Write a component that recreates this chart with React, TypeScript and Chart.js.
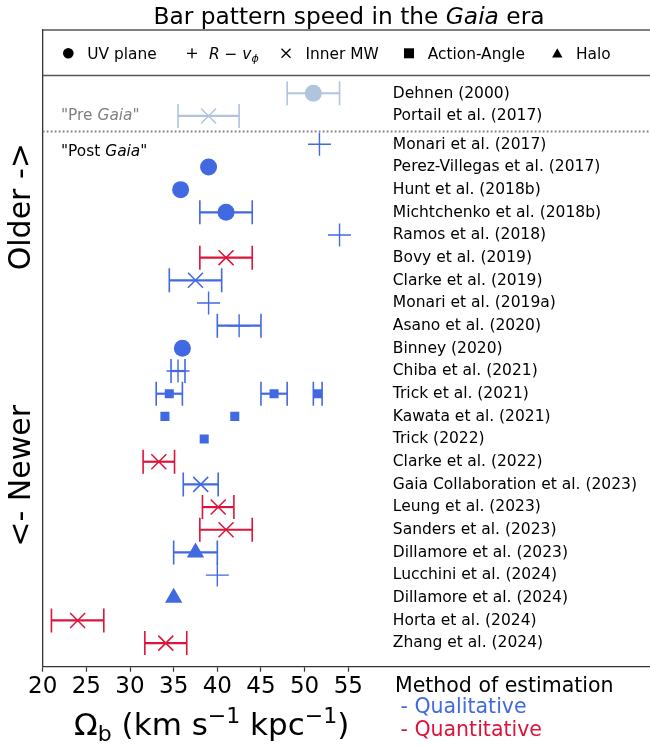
import React, { useEffect, useRef } from "react";
import { Chart, registerables } from "chart.js";

Chart.register(...registerables);

// ---------- data ----------
const studies = [
  "Dehnen (2000)",
  "Portail et al. (2017)",
  "Monari et al. (2017)",
  "Perez-Villegas et al. (2017)",
  "Hunt et al. (2018b)",
  "Michtchenko et al. (2018b)",
  "Ramos et al. (2018)",
  "Bovy et al. (2019)",
  "Clarke et al. (2019)",
  "Monari et al. (2019a)",
  "Asano et al. (2020)",
  "Binney (2020)",
  "Chiba et al. (2021)",
  "Trick et al. (2021)",
  "Kawata et al. (2021)",
  "Trick (2022)",
  "Clarke et al. (2022)",
  "Gaia Collaboration et al. (2023)",
  "Leung et al. (2023)",
  "Sanders et al. (2023)",
  "Dillamore et al. (2023)",
  "Lucchini et al. (2024)",
  "Dillamore et al. (2024)",
  "Horta et al. (2024)",
  "Zhang et al. (2024)",
];
const preGaiaCount = 2;

// one entry per estimate
const estimateStudy = [0, 1, 2, 3, 4, 5, 6, 7, 8, 9, 10, 11, 12, 13, 13, 13, 14, 14, 15, 16, 17, 18, 19, 20, 21, 22, 23, 24];
const estimateValue = [51, 39, 51.7, 39, 35.8, 41, 54, 41, 37.5, 39, 42.5, 36, 35.5, 34.5, 46.5, 51.5, 34, 42, 38.5, 33.3, 38.1, 40.1, 41, 37.5, 40, 35, 24, 34.1];
const estimateError: (number | null)[] = [3, 3.5, null, null, null, 3, null, 3, 3, null, 2.5, null, 0.8, 1.5, 1.5, 0.5, null, null, null, 1.8, 2, 1.8, 3, 2.5, null, null, 3, 2.4];
const estimateMethod = ["UV", "Inner", "Rv", "UV", "UV", "UV", "Rv", "Inner", "Inner", "Rv", "Rv", "UV", "Rv", "AA", "AA", "AA", "AA", "AA", "AA", "Inner", "Inner", "Inner", "Inner", "Halo", "Rv", "Halo", "Inner", "Inner"];
const estimateKind = ["qual", "qual", "qual", "qual", "qual", "qual", "qual", "quant", "qual", "qual", "qual", "qual", "qual", "qual", "qual", "qual", "qual", "qual", "qual", "quant", "qual", "quant", "quant", "qual", "qual", "qual", "quant", "quant"];

const methodKeys = ["UV", "Rv", "Inner", "AA", "Halo"];
const xTicks = [20, 25, 30, 35, 40, 45, 50, 55];

// ---------- styles ----------
const FONT = "'DejaVu Sans', sans-serif";
const COL_PRE = "#B0C4DE";
const COL_QUAL = "#4169E1";
const COL_QUANT = "#DC143C";
const methodStyle: Record<string, { pointStyle: string; radius: number; border: number }> = {
  UV: { pointStyle: "circle", radius: 8.5, border: 0 },
  Rv: { pointStyle: "cross", radius: 11.5, border: 1.4 },
  Inner: { pointStyle: "crossRot", radius: 10.6, border: 1.5 },
  AA: { pointStyle: "rect", radius: 6.4, border: 0 },
  Halo: { pointStyle: "triangle", radius: 10, border: 0 },
};

const rowY = (i: number) => (i < preGaiaCount ? i : i + 0.25);
const colorOf = (k: number) =>
  estimateStudy[k] < preGaiaCount ? COL_PRE : estimateKind[k] === "quant" ? COL_QUANT : COL_QUAL;

type Seg = { t: string; size: number; italic?: boolean; dy?: number; color?: string };
function drawRich(ctx: CanvasRenderingContext2D, segs: Seg[], x: number, y: number, align: "left" | "center") {
  let total = 0;
  for (const s of segs) {
    ctx.font = `${s.italic ? "italic " : ""}${s.size}px ${FONT}`;
    total += ctx.measureText(s.t).width;
  }
  let cx = align === "center" ? x - total / 2 : x;
  ctx.textAlign = "left";
  ctx.textBaseline = "alphabetic";
  for (const s of segs) {
    ctx.font = `${s.italic ? "italic " : ""}${s.size}px ${FONT}`;
    ctx.fillStyle = s.color || "#000";
    ctx.fillText(s.t, cx, y + (s.dy || 0));
    cx += ctx.measureText(s.t).width;
  }
}

const errorBarPlugin = {
  id: "errorBars",
  beforeDatasetsDraw(chart: any) {
    const ctx = chart.ctx as CanvasRenderingContext2D;
    const xs = chart.scales.x;
    const ys = chart.scales.y;
    ctx.save();
    chart.data.datasets.forEach((ds: any) => {
      ds.data.forEach((p: any) => {
        if (p.err == null) return;
        const y = ys.getPixelForValue(p.y);
        const x0 = xs.getPixelForValue(p.x - p.err);
        const x1 = xs.getPixelForValue(p.x + p.err);
        ctx.strokeStyle = p.color;
        ctx.lineWidth = 2.2;
        ctx.beginPath();
        ctx.moveTo(x0, y);
        ctx.lineTo(x1, y);
        ctx.stroke();
        ctx.lineWidth = 1.6;
        ctx.beginPath();
        ctx.moveTo(x0, y - 12);
        ctx.lineTo(x0, y + 12);
        ctx.moveTo(x1, y - 12);
        ctx.lineTo(x1, y + 12);
        ctx.stroke();
      });
    });
    ctx.restore();
  },
};

const decorPlugin = {
  id: "decor",
  afterDraw(chart: any) {
    const ctx = chart.ctx as CanvasRenderingContext2D;
    const xs = chart.scales.x;
    const ys = chart.scales.y;
    const area = chart.chartArea;
    ctx.save();

    // title
    drawRich(
      ctx,
      [
        { t: "Bar pattern speed in the ", size: 23.3 },
        { t: "Gaia", size: 23.3, italic: true },
        { t: " era", size: 23.3 },
      ],
      349,
      24,
      "center"
    );

    // legend box lines
    ctx.strokeStyle = "#555";
    ctx.lineWidth = 1.5;
    const legLine = ys.getPixelForValue(-0.78);
    ctx.beginPath();
    ctx.moveTo(area.left, area.top);
    ctx.lineTo(area.right, area.top);
    ctx.moveTo(area.left, legLine);
    ctx.lineTo(area.right, legLine);
    ctx.stroke();

    // legend entries
    const ly = 53.3;
    ctx.fillStyle = "#000";
    ctx.strokeStyle = "#000";
    ctx.beginPath();
    ctx.arc(68.3, ly, 5.3, 0, Math.PI * 2);
    ctx.fill();
    ctx.lineWidth = 1.3;
    ctx.beginPath();
    ctx.moveTo(187, ly);
    ctx.lineTo(197, ly);
    ctx.moveTo(192, ly - 5);
    ctx.lineTo(192, ly + 5);
    ctx.moveTo(281.5, ly - 4.5);
    ctx.lineTo(290.5, ly + 4.5);
    ctx.moveTo(281.5, ly + 4.5);
    ctx.lineTo(290.5, ly - 4.5);
    ctx.stroke();
    ctx.fillRect(404, ly - 5, 10, 10);
    ctx.beginPath();
    ctx.moveTo(557.3, ly - 5);
    ctx.lineTo(562.5, ly + 4.3);
    ctx.lineTo(552.1, ly + 4.3);
    ctx.closePath();
    ctx.fill();
    const lb = ly + 5.4;
    const lf = 15.4;
    drawRich(ctx, [{ t: "UV plane", size: lf }], 87.3, lb, "left");
    drawRich(
      ctx,
      [
        { t: "R", size: lf, italic: true },
        { t: " \u2212 ", size: lf },
        { t: "v", size: lf, italic: true },
        { t: "\u03d5", size: 11, italic: true, dy: 3 },
      ],
      209,
      lb,
      "left"
    );
    drawRich(ctx, [{ t: "Inner MW", size: lf }], 305.5, lb, "left");
    drawRich(ctx, [{ t: "Action-Angle", size: lf }], 427.7, lb, "left");
    drawRich(ctx, [{ t: "Halo", size: lf }], 576, lb, "left");

    // pre / post Gaia separator
    const sepY = ys.getPixelForValue(1.69);
    ctx.strokeStyle = "#808080";
    ctx.lineWidth = 2;
    ctx.setLineDash([1.8, 2.2]);
    ctx.beginPath();
    ctx.moveTo(area.left, sepY);
    ctx.lineTo(area.right, sepY);
    ctx.stroke();
    ctx.setLineDash([]);

    const textX = xs.getPixelForValue(22.1);
    drawRich(
      ctx,
      [
        { t: '"Pre ', size: lf, color: "#808080" },
        { t: "Gaia", size: lf, italic: true, color: "#808080" },
        { t: '"', size: lf, color: "#808080" },
      ],
      textX,
      ys.getPixelForValue(1) + 4.5,
      "left"
    );
    drawRich(
      ctx,
      [
        { t: '"Post ', size: lf },
        { t: "Gaia", size: lf, italic: true },
        { t: '"', size: lf },
      ],
      textX,
      ys.getPixelForValue(2.55) + 4.5,
      "left"
    );

    // study labels
    const labelX = xs.getPixelForValue(60.1);
    studies.forEach((s, i) => {
      drawRich(ctx, [{ t: s, size: 15.5 }], labelX, ys.getPixelForValue(rowY(i)) + 4.3, "left");
    });

    // y-axis direction labels
    ctx.fillStyle = "#000";
    ctx.font = `30px ${FONT}`;
    ctx.textAlign = "center";
    ctx.textBaseline = "alphabetic";
    ctx.save();
    ctx.translate(30, 206.7);
    ctx.rotate(-Math.PI / 2);
    ctx.fillText("Older ->", 0, 0);
    ctx.restore();
    ctx.save();
    ctx.translate(30, 475.8);
    ctx.rotate(-Math.PI / 2);
    ctx.fillText("<- Newer", 0, 0);
    ctx.restore();

    // x axis title
    drawRich(
      ctx,
      [
        { t: "\u03a9", size: 31 },
        { t: "b", size: 22, dy: 6 },
        { t: " (km s", size: 31 },
        { t: "\u22121", size: 22, dy: -12.5 },
        { t: " kpc", size: 31 },
        { t: "\u22121", size: 22, dy: -12.5 },
        { t: ")", size: 31 },
      ],
      211.7,
      735,
      "center"
    );

    // method legend
    drawRich(ctx, [{ t: "Method of estimation", size: 20.5 }], 395, 692.3, "left");
    drawRich(ctx, [{ t: " - Qualitative", size: 20.5, color: COL_QUAL }], 394, 712.7, "left");
    drawRich(ctx, [{ t: " - Quantitative", size: 20.5, color: COL_QUANT }], 394, 735.7, "left");

    ctx.restore();
  },
};

function buildDatasets() {
  return methodKeys.map((m) => {
    const idx = estimateMethod.map((mm, k) => (mm === m ? k : -1)).filter((k) => k >= 0);
    const st = methodStyle[m];
    const colors = idx.map(colorOf);
    return {
      label: m,
      data: idx.map((k) => ({
        x: estimateValue[k],
        y: rowY(estimateStudy[k]),
        err: estimateError[k],
        color: colorOf(k),
      })),
      pointStyle: st.pointStyle,
      pointRadius: st.radius,
      pointHoverRadius: st.radius,
      pointBorderWidth: st.border,
      pointBackgroundColor: colors,
      pointBorderColor: colors,
      showLine: false,
    };
  });
}

export default function App() {
  const ref = useRef<HTMLCanvasElement>(null);
  useEffect(() => {
    document.body.style.margin = "0";
    if (!ref.current) return;
    const chart = new Chart(ref.current, {
      type: "scatter",
      data: { datasets: buildDatasets() as any },
      options: {
        animation: false,
        responsive: false,
        devicePixelRatio: 1,
        layout: { autoPadding: false, padding: { top: 30, right: 0, left: 0, bottom: 0 } },
        plugins: { legend: { display: false }, tooltip: { enabled: false }, title: { display: false } },
        scales: {
          x: {
            type: "linear",
            position: "bottom",
            min: 20,
            max: 89.56,
            afterBuildTicks: (scale: any) => {
              scale.ticks = xTicks.map((v) => ({ value: v }));
            },
            afterFit: (scale: any) => {
              scale.height = 746 - 666.7;
              scale.paddingLeft = 0;
              scale.paddingRight = 0;
            },
            ticks: {
              autoSkip: false,
              maxRotation: 0,
              padding: 2,
              color: "#000",
              font: { family: FONT, size: 23 },
            },
            grid: {
              drawOnChartArea: false,
              drawTicks: true,
              tickLength: 5,
              tickColor: "#333",
              tickWidth: 1.2,
            },
            border: { display: true, color: "#333", width: 1.3 },
          },
          y: {
            type: "linear",
            reverse: true,
            min: -2.79,
            max: 25.29,
            afterFit: (scale: any) => {
              scale.width = 42.7;
              scale.paddingTop = 0;
              scale.paddingBottom = 0;
            },
            ticks: { display: false },
            grid: { display: false, drawTicks: false },
            border: { display: true, color: "#333", width: 1.3 },
          },
        },
      },
      plugins: [errorBarPlugin, decorPlugin],
    } as any);
    return () => chart.destroy();
  }, []);
  return <canvas ref={ref} width={650} height={746} style={{ display: "block", width: 650, height: 746 }} />;
}
